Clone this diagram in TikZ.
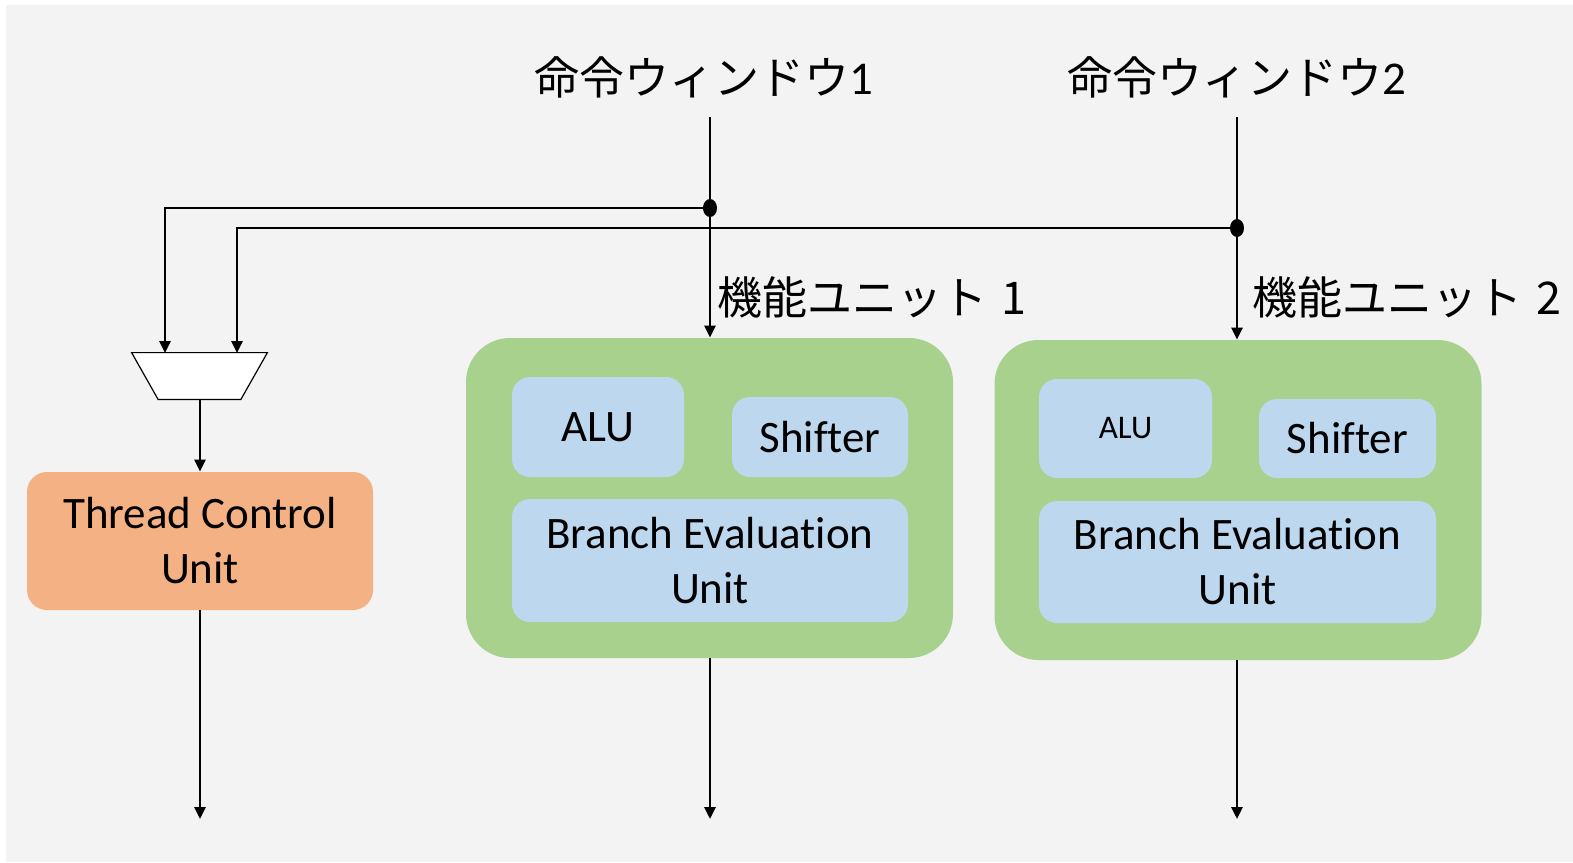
\documentclass[tikz,border=0pt]{standalone}
\usepackage{fontspec}
\setmainfont{Carlito}[Ligatures={NoCommon}]
\newfontfamily\jpfont{Noto Sans CJK JP}
\usetikzlibrary{arrows.meta,shapes.geometric}

\definecolor{canvas}{HTML}{F3F3F3}
\definecolor{fuGreen}{HTML}{A9D18E}
\definecolor{subBlue}{HTML}{BDD7EE}
\definecolor{tcuOrange}{HTML}{F4B183}

\begin{document}
\begin{tikzpicture}[
  x=0.5pt, y=-0.5pt,
  wire/.style={line width=1.4pt, black},
  feed/.style={wire, -{Triangle[length=6pt,width=5.5pt]}},
  junction/.style={fill=black, ellipse, inner sep=0pt, minimum width=7pt, minimum height=9pt},
  unitbox/.style={fill=fuGreen, rounded corners=22pt, minimum width=243.5pt, minimum height=160pt, inner sep=0pt},
  subbox/.style={fill=subBlue, rounded corners=9pt, inner sep=0pt, align=center,
                 font=\fontsize{22.5}{27.5}\selectfont},
  tcubox/.style={fill=tcuOrange, rounded corners=10pt, inner sep=0pt, align=center,
                 minimum width=173pt, minimum height=69pt,
                 font=\fontsize{22.5}{27.5}\selectfont},
  muxframe/.style={rectangle, minimum width=67.5pt, minimum height=23pt, inner sep=0pt},
  muxline/.style={draw=black, line width=0.6pt, fill=white},
  jplabel/.style={font=\jpfont\fontsize{22.5}{27.5}\selectfont, inner sep=0pt}
]
% canvas
\useasboundingbox (0,0) rectangle (1573,862);
\fill[white] (0,0) rectangle (1573,862);
\fill[canvas] (6,5) rectangle (1573,862);

% labels
\node[jplabel] (win1) at (704,77) {命令ウィンドウ{\rmfamily\fontsize{23.5}{27.5}\selectfont 1}};
\node[jplabel] (win2) at (1237,77) {命令ウィンドウ{\rmfamily\fontsize{23.5}{27.5}\selectfont 2}};
\node[jplabel, anchor=west] (fu1lab) at (717,297) {機能ユニット\hspace{2pt} 1};
\node[jplabel, anchor=west] (fu2lab) at (1252,297) {機能ユニット\hspace{2pt} 2};

% functional unit 1
\node[unitbox] (fu1) at (709.5,498) {};
\node[subbox, minimum width=86pt, minimum height=50pt] (alu1) at (598,427) {ALU};
\node[subbox, minimum width=88pt, minimum height=40pt] (sh1) at (820,437) {Shifter};
\node[subbox, minimum width=198pt, minimum height=61.5pt] (beu1) at (710,560.5) {Branch Evaluation\\Unit};

% functional unit 2
\node[unitbox] (fu2) at (1238,500) {};
\node[subbox, minimum width=86.5pt, minimum height=49.5pt, font=\fontsize{16.5}{20}\selectfont] (alu2) at (1125.5,428.5) {ALU};
\node[subbox, minimum width=88.5pt, minimum height=39.5pt] (sh2) at (1347.5,438.5) {Shifter};
\node[subbox, minimum width=198.5pt, minimum height=61pt] (beu2) at (1237.5,562) {Branch Evaluation\\Unit};

% thread selector (trapezoid) and control unit
\node[muxframe] (mux) at (199.5,376) {};
\draw[muxline] (mux.north west) -- (mux.north east)
  -- ([xshift=-13.25pt]mux.south east) -- ([xshift=13.25pt]mux.south west) -- cycle;
\node[tcubox] (tcu) at (200,541) {Thread Control\\Unit};

% routing points
\coordinate (w1top) at (710,117);
\coordinate (w2top) at (1237,117);
\coordinate (j1) at (710,208);
\coordinate (j2) at (1237,228);
\coordinate (in1) at (165,353);
\coordinate (in2) at (237,353);
\coordinate (out0) at (200,819);
\coordinate (out1) at (710,819);
\coordinate (out2) at (1237,819);

% window 1 feeds unit 1 and the selector
\draw[wire] (w1top) -- (j1);
\draw[feed] (j1) -- (j1 |- fu1.north);
\draw[feed] (j1) -| (in1);

% window 2 feeds unit 2 and the selector
\draw[wire] (w2top) -- (j2);
\draw[feed] (j2) -- (j2 |- fu2.north);
\draw[feed] (j2) -| (in2);

\node[junction] at (j1) {};
\node[junction] at (j2) {};

% selector to control unit
\draw[feed] (mux.south -| tcu.north) -- (tcu.north);

% outputs
\draw[feed] (tcu.south) -- (out0);
\draw[feed] (fu1.south -| out1) -- (out1);
\draw[feed] (fu2.south -| out2) -- (out2);
\end{tikzpicture}
\end{document}
